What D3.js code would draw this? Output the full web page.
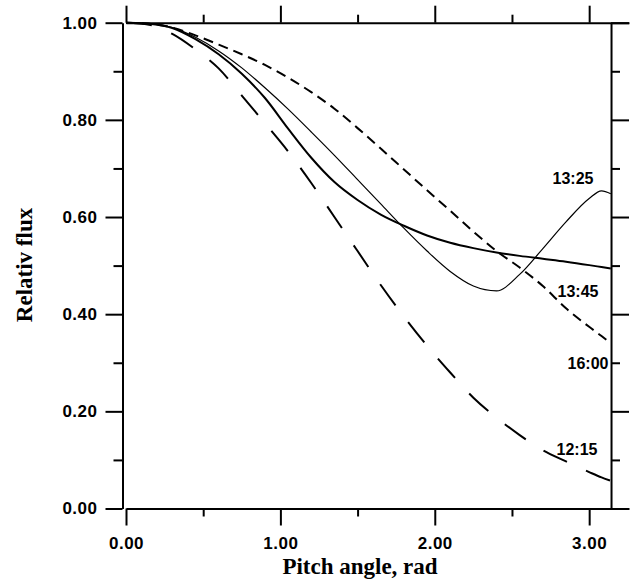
<!DOCTYPE html>
<html>
<head>
<meta charset="utf-8">
<script src="https://cdn.jsdelivr.net/npm/d3@7"></script>
<style>
  body { margin: 0; background: #fff; }
  svg { display: block; }
  .axis path, .axis line { stroke: #000; stroke-width: 2px; }
  .axis text { font-family: "Liberation Sans", Arial, sans-serif; font-weight: bold; font-size: 17px; letter-spacing: 0.5px; fill: #000; }
  .title { font-family: "Liberation Serif", "Times New Roman", serif; font-weight: bold; font-size: 23px; }
  .tag { font-family: "Liberation Sans", Arial, sans-serif; font-weight: bold; font-size: 16px; }
</style>
</head>
<body>
<svg width="631" height="580"></svg>
<script>
// pitch angle (rad) shared by all curves
var pitch = [0, 0.15, 0.3, 0.45, 0.6, 0.75, 0.9, 1.05, 1.2, 1.35, 1.5, 1.65, 1.8, 1.95,
  2.1, 2.25, 2.4, 2.55, 2.7, 2.85, 3.0, 3.08, 3.14];

var flux1325 = [1.0, 0.998, 0.99, 0.97, 0.942, 0.907, 0.866, 0.822, 0.775, 0.727, 0.677, 0.627, 0.577, 0.53,
  0.488, 0.458, 0.448, 0.482, 0.535, 0.59, 0.638, 0.654, 0.648];
var flux1345 = [1.0, 0.998, 0.989, 0.966, 0.935, 0.895, 0.845, 0.782, 0.722, 0.672, 0.635, 0.605, 0.582, 0.562,
  0.547, 0.536, 0.527, 0.52, 0.514, 0.508, 0.501, 0.497, 0.494];
var flux1600 = [1.0, 0.998, 0.99, 0.974, 0.955, 0.935, 0.913, 0.887, 0.857, 0.823, 0.783, 0.741, 0.698, 0.655,
  0.613, 0.57, 0.53, 0.496, 0.458, 0.412, 0.374, 0.355, 0.34];
var flux1215 = [1.0, 0.996, 0.977, 0.945, 0.906, 0.85, 0.793, 0.735, 0.67, 0.6, 0.53, 0.46, 0.395, 0.335,
  0.28, 0.228, 0.187, 0.151, 0.12, 0.097, 0.075, 0.064, 0.057];

var xTicks = [0, 0.5, 1, 1.5, 2, 2.5, 3];
var yTicks = [0, 0.1, 0.2, 0.3, 0.4, 0.5, 0.6, 0.7, 0.8, 0.9, 1.0];

var series = [
  { name: "13:25", values: flux1325, width: 1.2, dash: null, lx: 573, ly: 178 },
  { name: "13:45", values: flux1345, width: 2, dash: null, lx: 578, ly: 291 },
  { name: "16:00", values: flux1600, width: 2, dash: "10,6", lx: 588, ly: 363 },
  { name: "12:15", values: flux1215, width: 2, dash: "26,21", lx: 577, ly: 449 }
];

var svg = d3.select("svg");

var x = d3.scaleLinear().domain([0, 3.258]).range([126, 629]);
var y = d3.scaleLinear().domain([0, 1]).range([508.5, 22.7]);

function isMajorX(d) { return Math.abs(d - Math.round(d)) < 1e-6; }
function isMajorY(d) { return Math.round(d * 10) % 2 === 0; }

// bottom axis
var gb = svg.append("g").attr("class", "axis")
  .attr("transform", "translate(0," + y(0) + ")")
  .call(d3.axisBottom(x).tickValues(xTicks).tickSize(17).tickSizeOuter(0).tickPadding(11)
    .tickFormat(function(d) { return isMajorX(d) ? d3.format(".2f")(d) : ""; }));
gb.selectAll(".tick line").attr("y2", function(d) { return isMajorX(d) ? 17 : 8; });

// top axis
var gt = svg.append("g").attr("class", "axis")
  .attr("transform", "translate(0," + y(1) + ")")
  .call(d3.axisTop(x).tickValues(xTicks).tickSize(17).tickSizeOuter(0).tickFormat(""));
gt.selectAll(".tick line").attr("y2", function(d) { return isMajorX(d) ? -17 : -8; });

// left axis
var gl = svg.append("g").attr("class", "axis")
  .attr("transform", "translate(122.5,0)")
  .call(d3.axisLeft(y).tickValues(yTicks).tickSize(17).tickSizeOuter(0).tickPadding(8)
    .tickFormat(function(d) { return isMajorY(d) ? d3.format(".2f")(d) : ""; }));
gl.selectAll(".tick line").attr("x2", function(d) { return isMajorY(d) ? -17 : -9; });

// right axis
var gr = svg.append("g").attr("class", "axis")
  .attr("transform", "translate(" + x(3.1416) + ",0)")
  .call(d3.axisRight(y).tickValues(yTicks).tickSize(18).tickSizeOuter(0).tickFormat(""));
gr.selectAll(".tick line").attr("x2", function(d) { return isMajorY(d) ? 18 : 9; });

var line = d3.line()
  .x(function(d, i) { return x(pitch[i]); })
  .y(function(d) { return y(d); })
  .curve(d3.curveMonotoneX);

svg.append("g").selectAll("path")
  .data(series)
  .enter().append("path")
  .attr("d", function(s) { return line(s.values); })
  .attr("fill", "none")
  .attr("stroke", "#000")
  .attr("stroke-width", function(s) { return s.width; })
  .attr("stroke-dasharray", function(s) { return s.dash; });

svg.append("g").selectAll("text")
  .data(series)
  .enter().append("text")
  .attr("class", "tag")
  .attr("x", function(s) { return s.lx; })
  .attr("y", function(s) { return s.ly; })
  .attr("dy", "0.35em")
  .attr("text-anchor", "middle")
  .text(function(s) { return s.name; });

svg.append("text")
  .attr("class", "title")
  .attr("x", 360)
  .attr("y", 574)
  .attr("text-anchor", "middle")
  .text("Pitch angle, rad");

svg.append("text")
  .attr("class", "title")
  .attr("transform", "translate(32,265) rotate(-90)")
  .attr("text-anchor", "middle")
  .text("Relativ flux");
</script>
</body>
</html>
